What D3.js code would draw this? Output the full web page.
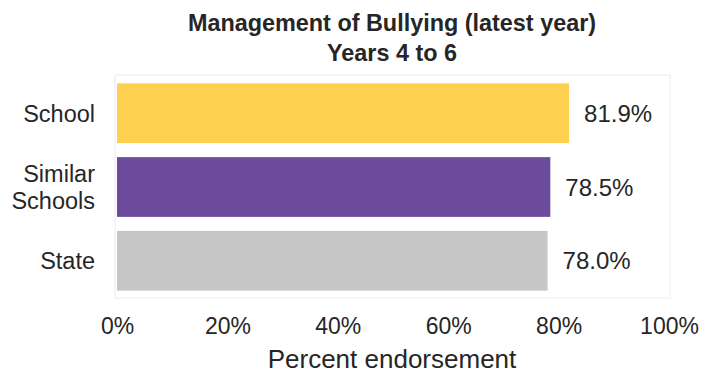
<!DOCTYPE html>
<html>
<head>
<meta charset="utf-8">
<script src="https://cdn.jsdelivr.net/npm/d3@7"></script>
<style>
  html, body { margin: 0; padding: 0; background: #fff; }
  svg text { font-family: Arial, "Liberation Sans", sans-serif; fill: #262626; }
</style>
</head>
<body>
<svg id="chart" width="716" height="374"></svg>
<script>
const categories = [["School"], ["Similar", "Schools"], ["State"]];
const categoryKeys = ["School", "Similar Schools", "State"];
const values = [81.9, 78.5, 78.0];
const colors = ["#FDD04F", "#6C4B9C", "#C6C6C6"];
const xTicks = [0, 20, 40, 60, 80, 100];
const titleLines = ["Management of Bullying (latest year)", "Years 4 to 6"];
const xAxisTitle = "Percent endorsement";

(function () {
const svg = d3.select("#chart");
const pLeft = 117, pRight = 669, pTop = 76, pBottom = 298;

const x = d3.scaleLinear().domain([0, 100]).range([pLeft, pRight]);
const y = d3.scaleBand().domain(categoryKeys).range([pTop, pBottom]).paddingInner(0.19).paddingOuter(0.1);

// plot frame
svg.append("rect")
  .attr("x", pLeft - 2).attr("y", pTop - 1)
  .attr("width", pRight - pLeft + 3).attr("height", pBottom - pTop + 1)
  .attr("fill", "none").attr("stroke", "#ececec").attr("stroke-width", 1);

// title
svg.append("text")
  .attr("x", 392).attr("y", 31)
  .attr("text-anchor", "middle")
  .attr("font-size", 23.4).attr("font-weight", "bold")
  .text(titleLines[0]);
svg.append("text")
  .attr("x", 392).attr("y", 61)
  .attr("text-anchor", "middle")
  .attr("font-size", 23.4).attr("font-weight", "bold")
  .text(titleLines[1]);

// bars
svg.selectAll("rect.bar")
  .data(values)
  .join("rect")
  .attr("class", "bar")
  .attr("x", x(0))
  .attr("y", (d, i) => y(categoryKeys[i]))
  .attr("width", d => x(d) - x(0))
  .attr("height", y.bandwidth())
  .attr("fill", (d, i) => colors[i]);

// value labels
svg.selectAll("text.val")
  .data(values)
  .join("text")
  .attr("class", "val")
  .attr("x", d => x(d) + 15)
  .attr("y", (d, i) => y(categoryKeys[i]) + y.bandwidth() / 2)
  .attr("dy", "0.36em")
  .attr("font-size", 24)
  .text(d => d.toFixed(1) + "%");

// category labels
categories.forEach((lines, i) => {
  const cy = y(categoryKeys[i]) + y.bandwidth() / 2;
  const lh = 27;
  const t = svg.append("text")
    .attr("text-anchor", "end")
    .attr("font-size", 23.5);
  lines.forEach((ln, j) => {
    t.append("tspan")
      .attr("x", 95)
      .attr("y", cy + (j - (lines.length - 1) / 2) * lh)
      .attr("dy", "0.36em")
      .text(ln);
  });
});

// x axis
const xAxis = d3.axisBottom(x).tickValues(xTicks).tickSize(0).tickPadding(0)
  .tickFormat(d => d + "%");
const gx = svg.append("g").attr("transform", `translate(0, ${pBottom + 20})`).call(xAxis);
gx.select(".domain").remove();
gx.selectAll("text")
  .attr("font-size", 23)
  .attr("fill", "#262626")
  .attr("font-family", "Arial, 'Liberation Sans', sans-serif");

// x axis title
svg.append("text")
  .attr("x", 392).attr("y", 368)
  .attr("text-anchor", "middle")
  .attr("font-size", 26)
  .text(xAxisTitle);
})();
</script>
</body>
</html>
